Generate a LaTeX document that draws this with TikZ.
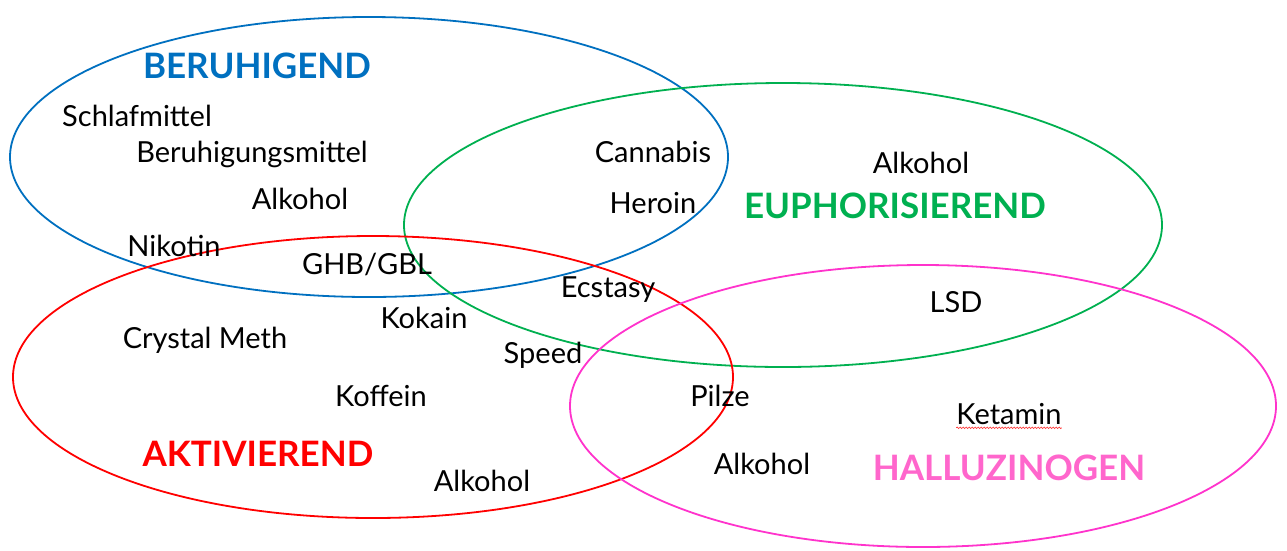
\documentclass[tikz,border=0pt]{standalone}
\usepackage{fontspec}
\setmainfont{Lato}
\usetikzlibrary{decorations.pathmorphing}
\definecolor{beruhigend}{HTML}{0070C0}
\definecolor{euphorisch}{HTML}{00B050}
\definecolor{aktiv}{HTML}{FF0000}
\definecolor{hallu}{HTML}{FF66CC}
\definecolor{hallurand}{HTML}{FF33CC}
\begin{document}
\begin{tikzpicture}[x=1pt, y=-1pt,
   ring/.style={line width=1.8pt},
   drug/.style={font=\fontsize{29}{34}\selectfont, inner sep=0pt, text height=0.72em, text depth=0pt},
   group/.style={font=\fontsize{35}{40}\selectfont\bfseries, inner sep=0pt, text height=0.72em, text depth=0pt}]
   \useasboundingbox (0,0) rectangle (1287,550);
   \fill[white] (0,0) rectangle (1287,550);

   \draw[ring, beruhigend] (369,157) ellipse [x radius=359, y radius=140];
   \draw[ring, euphorisch] (783,225) ellipse [x radius=379, y radius=142];
   \draw[ring, aktiv] (373,377) ellipse [x radius=360, y radius=141];
   \draw[ring, hallurand] (923,406) ellipse [x radius=353, y radius=141];

   \node (beru) at (257,75) [group, text=beruhigend] {BERUHIGEND};
   \node (euph) at (895,215) [group, text=euphorisch] {EUPHORISIEREND};
   \node (akti) at (258,463) [group, text=aktiv] {AKTIVIEREND};
   \node (hall) at (1009,477) [group, text=hallu] {HALLUZINOGEN};

   \node (schlaf) at (137,123) [drug] {Schlafmittel};
   \node (beruhm) at (252,159) [drug] {Beruhigungsmittel};
   \node (alk1) at (300,206) [drug] {Alkohol};
   \node (canna) at (653,159) [drug] {Cannabis};
   \node (hero) at (653,210) [drug] {Heroin};
   \node (alk2) at (921,170) [drug] {Alkohol};
   \node (niko) at (174,253) [drug] {Nikotin};
   \node (ghb) at (367,271) [drug] {GHB/GBL};
   \node (ecst) at (608,294) [drug] {Ecstasy};
   \node (lsd) at (956,309) [drug] {LSD};
   \node (koka) at (424,325) [drug] {Kokain};
   \node (meth) at (205,345) [drug] {Crystal Meth};
   \node (speed) at (543,360) [drug] {Speed};
   \node (koff) at (381,403) [drug] {Koffein};
   \node (pilz) at (720,403) [drug] {Pilze};
   \node (keta) at (1009,421) [drug] {Ketamin};
   \node (alk3) at (482,488) [drug] {Alkohol};
   \node (alk4) at (762,471) [drug] {Alkohol};

   \draw[red!80, line width=0.6pt, decorate, decoration={snake, amplitude=0.8pt, segment length=3pt}]
      ([yshift=-3pt]keta.south west) -- ([yshift=-3pt]keta.south east);
\end{tikzpicture}
\end{document}
